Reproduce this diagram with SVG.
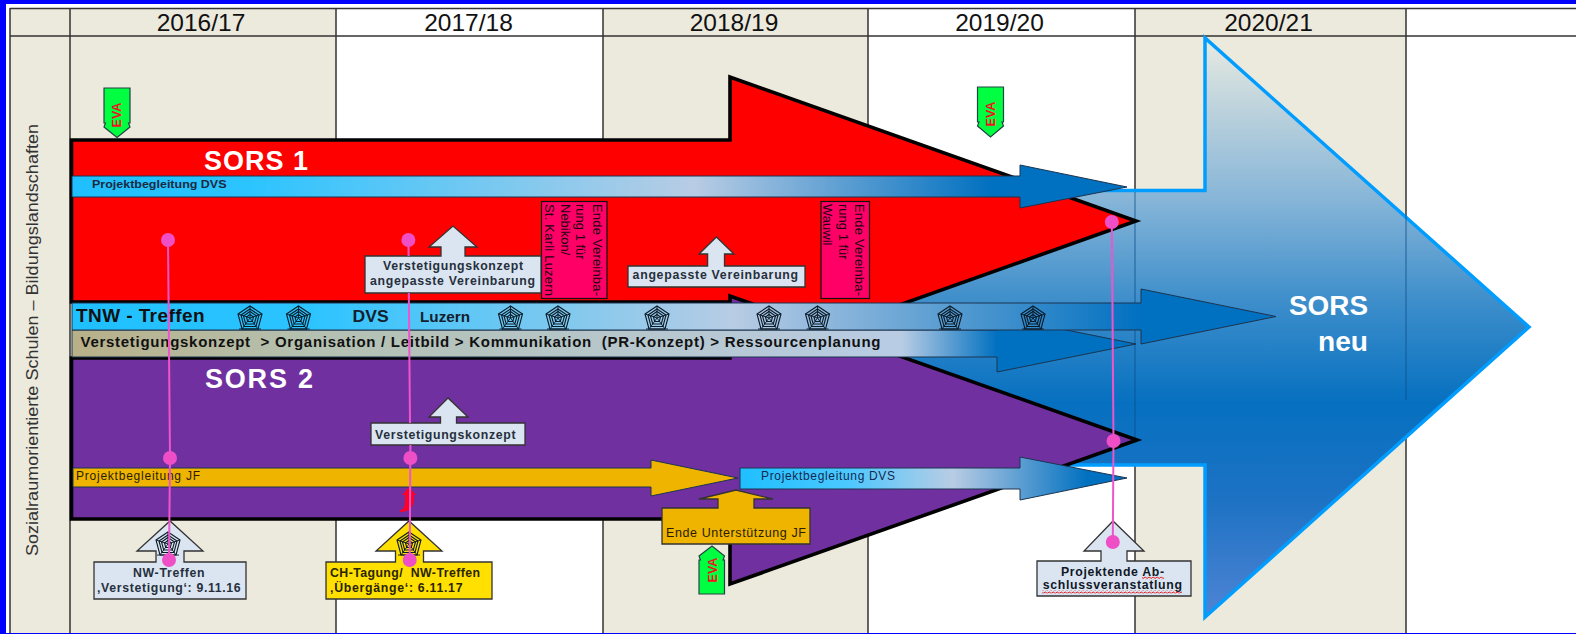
<svg xmlns="http://www.w3.org/2000/svg" width="1576" height="634" viewBox="0 0 1576 634">
<style>
text{font-family:"Liberation Sans",Arial,sans-serif;white-space:pre}
.hd{font-size:24.5px;fill:#111;text-anchor:middle}
.grid{stroke:#333;stroke-width:1.5;fill:none}
.beige{fill:#ece9dd}
.big{font-size:27px;font-weight:bold;fill:#fff}
.call{stroke:#333;stroke-width:1.3;stroke-linejoin:miter}
.pale{fill:#dbe5f1}
.t{font-size:12.3px;font-weight:bold;fill:#26303c}
.bar{stroke:#1c3550;stroke-width:1}
.bk{stroke:#000;stroke-width:3.6;stroke-linejoin:miter;stroke-miterlimit:10}
.eva{fill:#00ff40;stroke:#244;stroke-width:1.2}
.evat{font-size:12.5px;font-weight:bold;fill:#f01020;text-anchor:middle}
.pk{fill:#ff0066;stroke:#111;stroke-width:1.2}
.pkt{font-size:13px;fill:#200010}
.con{stroke:#ee55cc;stroke-width:2;fill:none}
.dot{fill:#ee4fc6}
</style>
<defs>
<linearGradient id="gBig" gradientUnits="userSpaceOnUse" x1="0" y1="38" x2="0" y2="617">
<stop offset="0" stop-color="#e8ebe2"/><stop offset=".125" stop-color="#bcd2dc"/><stop offset=".28" stop-color="#86b5d8"/><stop offset=".45" stop-color="#3f8fcb"/><stop offset=".63" stop-color="#0670c0"/><stop offset=".8" stop-color="#1e72c4"/><stop offset="1" stop-color="#4f84d4"/>
</linearGradient>
<linearGradient id="gD1" gradientUnits="userSpaceOnUse" x1="72" y1="0" x2="1127" y2="0">
<stop offset="0" stop-color="#1fbfff"/><stop offset=".17" stop-color="#2cc4ff"/><stop offset=".59" stop-color="#b8cce4"/><stop offset=".873" stop-color="#0070c0"/><stop offset="1" stop-color="#0070c0"/>
</linearGradient>
<linearGradient id="gT" gradientUnits="userSpaceOnUse" x1="72" y1="0" x2="1276" y2="0">
<stop offset="0" stop-color="#1fc0ff"/><stop offset=".2" stop-color="#2cc4ff"/><stop offset=".55" stop-color="#b8cce4"/><stop offset=".89" stop-color="#0070c0"/><stop offset="1" stop-color="#0070c0"/>
</linearGradient>
<linearGradient id="gV" gradientUnits="userSpaceOnUse" x1="72" y1="0" x2="1136" y2="0">
<stop offset="0" stop-color="#b8b088"/><stop offset=".22" stop-color="#b4c0b0"/><stop offset=".78" stop-color="#b8cce4"/><stop offset=".87" stop-color="#0070c0"/><stop offset="1" stop-color="#0070c0"/>
</linearGradient>
<linearGradient id="gD2" gradientUnits="userSpaceOnUse" x1="740" y1="0" x2="1127" y2="0">
<stop offset="0" stop-color="#1fbfff"/><stop offset=".28" stop-color="#4cc8ff"/><stop offset=".55" stop-color="#b8cce4"/><stop offset=".9" stop-color="#0070c0"/><stop offset="1" stop-color="#0070c0"/>
</linearGradient>
<pattern id="wave" patternUnits="userSpaceOnUse" width="4" height="3">
<path d="M0,2 Q1,0 2,1.5 T4,2" fill="none" stroke="#e02020" stroke-width="1"/>
</pattern>
<g id="web" fill="none" stroke="#0a1a26" stroke-width="1.1">
<path d="M0,-12 L12,-4 L8,11 H-8 L-12,-4 Z"/>
<path d="M0,-9 L9,-3 L6,8.5 H-6 L-9,-3 Z"/>
<path d="M0,-6.5 L6.5,-2 L4.3,6 H-4.3 L-6.5,-2 Z"/>
<path d="M0,-3.5 L3.5,-1 L2.3,3.5 H-2.3 L-3.5,-1 Z"/>
<path d="M0,-12 V0 M12,-4 L0,0 M8,11 L0,0 M-8,11 L0,0 M-12,-4 L0,0 M-11,11 H11" stroke-width=".9"/>
</g>
</defs>

<rect width="1576" height="634" fill="#fff"/>
<g id="table">
<rect class="beige" x="10" y="8" width="60" height="625"/>
<rect class="beige" x="70" y="8" width="266" height="625"/>
<rect class="beige" x="603" y="8" width="265" height="625"/>
<rect class="beige" x="1135" y="8" width="271" height="625"/>
<path class="grid" d="M10,8.5 H1576 M10,36 H1576 M10,8 V633 M70,8 V633 M336,8 V633 M603,8 V633 M868,8 V633 M1135,8 V633 M1406,8 V633"/>
<text class="hd" x="201" y="30.5">2016/17</text>
<text class="hd" x="468.5" y="30.5">2017/18</text>
<text class="hd" x="734" y="30.5">2018/19</text>
<text class="hd" x="999.5" y="30.5">2019/20</text>
<text class="hd" x="1268.5" y="30.5">2020/21</text>
<text font-size="16" fill="#333" transform="translate(37.5,556) rotate(-90)" textLength="432" lengthAdjust="spacingAndGlyphs">Sozialraumorientierte Schulen – Bildungslandschaften</text>
</g>

<g id="sors-neu">
<path d="M730,190.5 H1205 V38 L1529,327 L1205,617 V465 H730 Z" fill="url(#gBig)" stroke="#009dff" stroke-width="3.5" stroke-miterlimit="10"/>
<path d="M1135,192 V440 M1406,215 V400" stroke="#0b4f88" stroke-width="1.3" fill="none" opacity=".6"/>
<text class="big" x="1289" y="315" textLength="79" lengthAdjust="spacingAndGlyphs">SORS</text>
<text class="big" x="1318" y="351" textLength="50" lengthAdjust="spacingAndGlyphs">neu</text>
</g>

<g id="sors1">
<path class="bk" d="M71.5,140 H730 V77 L1136,221 L730,365 V302 H71.5 Z" fill="#ff0000"/>
<text class="big" x="204" y="170" textLength="104" lengthAdjust="spacing">SORS 1</text>
</g>
<g id="sors2">
<path class="bk" d="M71.5,358 H730 V296 L1137,440 L730,584 V519 H71.5 Z" fill="#7030a0"/>
<text class="big" x="205" y="388" textLength="108" lengthAdjust="spacing">SORS 2</text>
</g>

<g id="bar-dvs1">
<path class="bar" d="M72,176 H1020 V165 L1127,187 L1020,208 V197 H72 Z" fill="url(#gD1)"/>
<text class="t" x="92" y="188" textLength="134.5" lengthAdjust="spacingAndGlyphs" style="font-size:11.5px;fill:#1c2a40">Projektbegleitung DVS</text>
</g>
<g id="bar-verstetigung">
<path class="bar" d="M72,330 H997 V316 L1136,344 L997,372 V357 H72 Z" fill="url(#gV)"/>
<text x="80.5" y="347.3" font-size="15" font-weight="bold" fill="#111" textLength="800" lengthAdjust="spacing">Verstetigungskonzept  &gt; Organisation / Leitbild &gt; Kommunikation  (PR-Konzept) &gt; Ressourcenplanung</text>
</g>
<g id="bar-tnw">
<path class="bar" d="M72,303 H1141 V289 L1276,316.5 L1141,344 V330 H72 Z" fill="url(#gT)"/>
<text x="76" y="321.5" font-size="19" font-weight="bold" fill="#111" textLength="128.5" lengthAdjust="spacing">TNW - Treffen</text>
<text x="352.6" y="321.5" font-size="16" font-weight="bold" fill="#14202c" textLength="36" lengthAdjust="spacingAndGlyphs">DVS</text>
<text x="420" y="321.5" font-size="14" font-weight="bold" fill="#14202c" textLength="50" lengthAdjust="spacingAndGlyphs">Luzern</text>
<use href="#web" x="250" y="318"/>
<use href="#web" x="298.5" y="318"/>
<use href="#web" x="510.5" y="318"/>
<use href="#web" x="558" y="318"/>
<use href="#web" x="657" y="318"/>
<use href="#web" x="769" y="318"/>
<use href="#web" x="817.5" y="318"/>
<use href="#web" x="950" y="318"/>
<use href="#web" x="1033" y="318"/>
</g>
<g id="bar-jf">
<path class="bar" d="M73,468 H651 V460 L738,478 L651,496 V487 H73 Z" fill="#eeb400"/>
<text x="76" y="480" font-size="12" fill="#2a1c00" textLength="124" lengthAdjust="spacing">Projektbegleitung JF</text>
</g>
<g id="bar-dvs2">
<path class="bar" d="M740,468 H1020 V457 L1127,478 L1020,500 V489 H740 Z" fill="url(#gD2)"/>
<text x="761" y="480" font-size="12" fill="#142a50" textLength="134" lengthAdjust="spacing">Projektbegleitung DVS</text>
</g>

<g id="eva-1">
<path class="eva" d="M104,88 H130 V123 L128.5,123 L130,127 L117,137.5 L104,127 L105.5,123 H104 Z"/>
<text class="evat" transform="translate(121,115) rotate(-90)">EVA</text>
</g>
<g id="eva-2">
<path class="eva" d="M977.5,87 H1003.5 V122 L1002,122 L1003.5,126 L990.5,137 L977.5,126 L979,122 H977.5 Z"/>
<text class="evat" transform="translate(995,114) rotate(-90)">EVA</text>
</g>

<g id="pink-1">
<rect class="pk" x="541.5" y="201.5" width="65.5" height="97"/>
<text class="pkt" transform="translate(593,204) rotate(90)" textLength="92" lengthAdjust="spacing">Ende Vereinba-</text>
<text class="pkt" transform="translate(576,204) rotate(90)">rung 1 für</text>
<text class="pkt" transform="translate(561,204) rotate(90)">Nebikon/</text>
<text class="pkt" transform="translate(545,204) rotate(90)" textLength="92" lengthAdjust="spacing">St. Karli Luzern</text>
</g>
<g id="pink-2">
<rect class="pk" x="821" y="201.5" width="48.5" height="97"/>
<text class="pkt" transform="translate(855,204) rotate(90)" textLength="92" lengthAdjust="spacing">Ende Vereinba-</text>
<text class="pkt" transform="translate(839,204) rotate(90)">rung 1 für</text>
<text class="pkt" transform="translate(823,204) rotate(90)">Wauwil</text>
</g>

<g id="callout-verstetigung-vereinbarung">
<path class="call pale" d="M365,256 H441 V247 H429 L453,226 L477,247 H465 V256 H541 V293 H365 Z"/>
<text class="t" x="383" y="269.5" textLength="140" lengthAdjust="spacing">Verstetigungskonzept</text>
<text class="t" x="370" y="285" textLength="165" lengthAdjust="spacing">angepasste Vereinbarung</text>
</g>
<g id="callout-vereinbarung">
<path class="call pale" d="M628,266 H707.6 V254 H699 L716.4,237 L734,254 H724.5 V266 H805 V287 H628 Z"/>
<text class="t" x="632.6" y="279" textLength="165.5" lengthAdjust="spacing">angepasste Vereinbarung</text>
</g>
<g id="callout-verstetigung">
<path class="call pale" d="M371,423 H440.5 V417 H429 L448,398 L468,417 H456.5 V423 H525 V445 H371 Z"/>
<text class="t" x="375" y="439" textLength="140.5" lengthAdjust="spacing">Verstetigungskonzept</text>
</g>
<g id="callout-ende-jf">
<path class="call" fill="#eeb400" d="M662,508 H718 V499 H699 L736,490 L773,499 H754 V508 H810 V544 H662 Z"/>
<text x="666" y="536.7" font-size="12.5" fill="#2a1c00" textLength="140" lengthAdjust="spacing">Ende Unterstützung JF</text>
</g>
<g id="eva-3">
<path class="eva" d="M699,594 H724.5 V560 L723,560 L724.5,556 L712,546 L699,556 L700.5,560 H699 Z"/>
<text class="evat" transform="translate(716.5,570) rotate(-90)">EVA</text>
</g>
<g id="callout-nw">
<path class="call pale" d="M94,562 H156 V551 H137 L170,521 L203,551 H184 V562 H246 V599 H94 Z"/>
<use href="#web" x="168" y="544"/>
<text class="t" x="133" y="577.3" textLength="71.5" lengthAdjust="spacing">NW-Treffen</text>
<text class="t" x="97" y="592" textLength="143.7" lengthAdjust="spacing">‚Verstetigung‘: 9.11.16</text>
</g>
<g id="callout-ch">
<path class="call" fill="#ffe000" d="M326,562 H395.5 V551 H376 L409,521 L442,551 H423.5 V562 H492 V599 H326 Z"/>
<use href="#web" x="409" y="544"/>
<text class="t" x="330" y="577.3" textLength="150" lengthAdjust="spacing" style="fill:#2a2400">CH-Tagung/  NW-Treffen</text>
<text class="t" x="330" y="592" textLength="132.5" lengthAdjust="spacing" style="fill:#2a2400">‚Übergänge‘: 6.11.17</text>
</g>
<g id="callout-projektende">
<path class="call pale" d="M1037,561 H1101 V551 H1084 L1113,521 L1144,551 H1127 V561 H1191 V596 H1037 Z"/>
<text class="t" x="1061" y="575.7" textLength="103" lengthAdjust="spacing" style="fill:#101828">Projektende Ab-</text>
<text class="t" x="1042.7" y="589" textLength="139.3" lengthAdjust="spacing" style="fill:#101828">schlussveranstatlung</text>
<rect x="1142" y="576.5" width="22" height="3" fill="url(#wave)"/>
<rect x="1042" y="590.5" width="140" height="3" fill="url(#wave)"/>
</g>
<path id="curved-arrow" d="M400,510 C404,510 405,506 405,498 L405,495 L402,495 L409,487 L416,495 L414,495 L414,500 C414,508 408,512 400,512 Z" fill="#ff0028"/>

<g id="connectors">
<path class="con" d="M168,240 L170,458 L169,560"/>
<path class="con" d="M408.4,240 L408.6,256 M408.8,293 L410,423 M410.4,445 L409.7,560"/>
<path class="con" d="M1111.8,222 L1113.5,441 L1112.8,542"/>
<circle class="dot" cx="168" cy="240" r="7"/>
<circle class="dot" cx="170" cy="458" r="7"/>
<circle class="dot" cx="169" cy="560" r="7"/>
<circle class="dot" cx="408.4" cy="240" r="7"/>
<circle class="dot" cx="410.4" cy="458" r="7"/>
<circle class="dot" cx="409.7" cy="560" r="7"/>
<circle class="dot" cx="1111.8" cy="222" r="7"/>
<circle class="dot" cx="1113.5" cy="441" r="7"/>
<circle class="dot" cx="1112.8" cy="542" r="7"/>
</g>

<g id="frame" fill="#0000ff">
<rect x="0" y="0" width="1576" height="4"/>
<rect x="0" y="0" width="6" height="634"/>
<rect x="0" y="633" width="1576" height="1"/>
</g>
</svg>
